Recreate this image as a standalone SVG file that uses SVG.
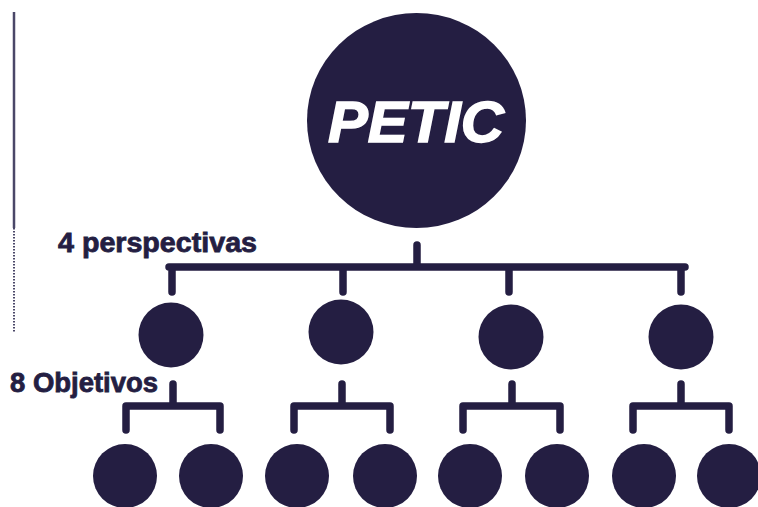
<svg xmlns="http://www.w3.org/2000/svg" width="758" height="507" viewBox="0 0 758 507">
<style>
.n{fill:#241E42}
.c{fill:none;stroke:#241E42;stroke-width:7.5;stroke-linecap:round;stroke-linejoin:miter}
.lbl{font-family:"Liberation Sans",Arial,sans-serif;font-weight:bold;font-size:27px;fill:#241E42;stroke:#241E42;stroke-width:0.8}
.title{font-family:"Liberation Sans",Arial,sans-serif;font-weight:bold;font-style:italic;font-size:57px;fill:#ffffff;stroke:#ffffff;stroke-width:1.5}
</style>
<rect width="758" height="507" fill="#ffffff"/>
<g id="side-rule">
<line x1="14" y1="12" x2="14" y2="228" stroke="#4a4768" stroke-width="2.5"/>
<line x1="14" y1="228" x2="14" y2="333" stroke="#4a4768" stroke-width="2" stroke-dasharray="1.5,1.5"/>
</g>
<g id="connectors">
<path class="c" d="M417 245 V267 M169 267 H685 M172 267 V292 M343 267 V292 M509 267 V292 M681 267 V292"/>
<path class="c" d="M173 384 V406 M126 406 H220 M126 406 V430 M220 406 V430"/>
<path class="c" d="M342 384 V406 M294 406 H390 M294 406 V430 M390 406 V430"/>
<path class="c" d="M512 384 V406 M463 406 H560 M463 406 V430 M560 406 V430"/>
<path class="c" d="M681 384 V406 M633 406 H729 M633 406 V430 M729 406 V430"/>
</g>
<g id="petic">
<ellipse class="n" cx="416.5" cy="120.5" rx="109.5" ry="107.5"/>
<text class="title" x="416" y="142" text-anchor="middle" textLength="176" lengthAdjust="spacingAndGlyphs">PETIC</text>
</g>
<g id="label-perspectivas"><text class="lbl" x="58" y="252" textLength="199" lengthAdjust="spacingAndGlyphs">4 perspectivas</text></g>
<g id="label-objetivos"><text class="lbl" x="10" y="392" textLength="148" lengthAdjust="spacingAndGlyphs">8 Objetivos</text></g>
<g id="p1"><circle class="n" cx="171" cy="335" r="32.5"/></g>
<g id="p2"><circle class="n" cx="341" cy="332" r="32.5"/></g>
<g id="p3"><circle class="n" cx="511" cy="337" r="32.5"/></g>
<g id="p4"><circle class="n" cx="681" cy="337" r="32.5"/></g>
<g id="o1"><circle class="n" cx="125" cy="476" r="32"/></g>
<g id="o2"><circle class="n" cx="211" cy="476" r="32"/></g>
<g id="o3"><circle class="n" cx="297" cy="476" r="32"/></g>
<g id="o4"><circle class="n" cx="385" cy="476" r="32"/></g>
<g id="o5"><circle class="n" cx="470" cy="476" r="32"/></g>
<g id="o6"><circle class="n" cx="557" cy="476" r="32"/></g>
<g id="o7"><circle class="n" cx="644" cy="476" r="32"/></g>
<g id="o8"><circle class="n" cx="729" cy="476" r="32"/></g>
</svg>
